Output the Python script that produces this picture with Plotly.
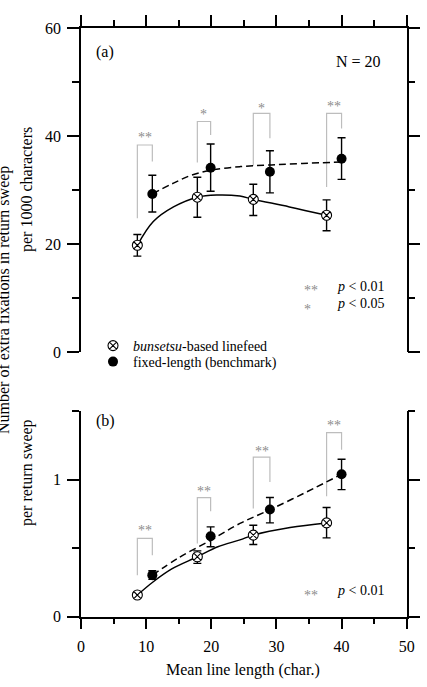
import plotly.graph_objects as go

# ---------------- data ----------------
x_bun = [8.65, 17.86, 26.45, 37.7]
x_fix = [10.95, 19.9, 29.0, 40.0]

# Panel (a): per 1000 characters
a_bun = [19.8, 28.7, 28.3, 25.35]
a_bun_hi = [21.8, 32.4, 31.1, 28.2]
a_bun_lo = [17.8, 25.0, 25.3, 22.5]
a_fix = [29.3, 34.15, 33.4, 35.8]
a_fix_hi = [32.75, 38.55, 37.3, 39.7]
a_fix_lo = [25.95, 29.8, 29.5, 32.0]

a_fit_bun_x = [8.65, 11.1, 14.2, 17.86, 20.8, 24.4, 26.45, 32.0, 37.7]
a_fit_bun_y = [19.8, 24.2, 26.9, 28.7, 29.1, 28.9, 28.3, 26.9, 25.35]
a_fit_fix_x = [10.95, 14.2, 17.0, 20.0, 24.4, 29.0, 34.0, 40.0]
a_fit_fix_y = [29.3, 31.3, 32.8, 33.7, 34.35, 34.65, 34.95, 35.2]

a_br_top = [38.35, 42.7, 44.2, 44.2]
a_br_left_bottom = [24.8, 35.1, 34.5, 30.6]
a_br_right_bottom = [35.3, 40.2, 39.6, 41.4]
a_sig = ["**", "*", "*", "**"]
a_sig_y = [40.3, 44.5, 45.75, 46.1]

# Panel (b): per return sweep
b_bun = [0.158, 0.437, 0.595, 0.684]
b_bun_hi = [0.172, 0.48, 0.667, 0.796]
b_bun_lo = [0.144, 0.389, 0.527, 0.575]
b_fix = [0.303, 0.587, 0.782, 1.039]
b_fix_hi = [0.335, 0.655, 0.869, 1.148]
b_fix_lo = [0.272, 0.51, 0.684, 0.927]

b_fit_bun_x = [8.65, 11.1, 14.0, 17.86, 21.0, 24.4, 26.45, 32.1, 37.7]
b_fit_bun_y = [0.158, 0.255, 0.35, 0.437, 0.51, 0.56, 0.595, 0.65, 0.684]
b_fit_fix_x = [10.95, 15.0, 20.0, 24.4, 29.0, 34.65, 40.0]
b_fit_fix_y = [0.303, 0.43, 0.56, 0.68, 0.78, 0.91, 1.039]

b_br_top = [0.571, 0.869, 1.164, 1.342]
b_br_left_bottom = [0.303, 0.534, 0.789, 0.878]
b_br_right_bottom = [0.449, 0.769, 0.983, 1.218]
b_sig = ["**", "**", "**", "**"]
b_sig_y = [0.648, 0.934, 1.23, 1.419]

name_bun = "<i>bunsetsu</i>-based linefeed"
name_fix = "fixed-length (benchmark)"

FONT = "Liberation Serif"
GRAY_LINE = "#bdbdbd"
GRAY_TXT = "#8c8c8c"

fig = go.Figure()


def bracket_xy(xl, xr, top, lb, rb):
    xs, ys = [], []
    for a, b, t, l, r in zip(xl, xr, top, lb, rb):
        xs += [a, a, b, b, None]
        ys += [l, t, t, r, None]
    return xs, ys


def add_panel(xa, ya, bun, bun_hi, bun_lo, fix, fix_hi, fix_lo,
              fbx, fby, ffx, ffy, top, lb, rb, legend):
    bx, by = bracket_xy(x_bun, x_fix, top, lb, rb)
    fig.add_trace(go.Scatter(x=bx, y=by, mode="lines", xaxis=xa, yaxis=ya,
                             line=dict(color=GRAY_LINE, width=1.2),
                             showlegend=False, hoverinfo="skip"))
    fig.add_trace(go.Scatter(x=fbx, y=fby, mode="lines", xaxis=xa, yaxis=ya,
                             line=dict(color="black", width=1.5, shape="spline"),
                             showlegend=False, hoverinfo="skip"))
    fig.add_trace(go.Scatter(x=ffx, y=ffy, mode="lines", xaxis=xa, yaxis=ya,
                             line=dict(color="black", width=1.5, shape="spline",
                                       dash="7px,4px"),
                             showlegend=False, hoverinfo="skip"))
    fig.add_trace(go.Scatter(
        x=x_bun, y=bun, mode="markers", xaxis=xa, yaxis=ya, name=name_bun,
        showlegend=legend, legend="legend",
        marker=dict(symbol="circle-x", size=10, color="white",
                    line=dict(color="black", width=1.1)),
        error_y=dict(type="data", symmetric=False,
                     array=[h - m for h, m in zip(bun_hi, bun)],
                     arrayminus=[m - l for m, l in zip(bun, bun_lo)],
                     color="black", thickness=1.4, width=4)))
    fig.add_trace(go.Scatter(
        x=x_fix, y=fix, mode="markers", xaxis=xa, yaxis=ya, name=name_fix,
        showlegend=legend, legend="legend2",
        marker=dict(symbol="circle", size=10, color="black"),
        error_y=dict(type="data", symmetric=False,
                     array=[h - m for h, m in zip(fix_hi, fix)],
                     arrayminus=[m - l for m, l in zip(fix, fix_lo)],
                     color="black", thickness=1.4, width=4)))


add_panel("x", "y", a_bun, a_bun_hi, a_bun_lo, a_fix, a_fix_hi, a_fix_lo,
          a_fit_bun_x, a_fit_bun_y, a_fit_fix_x, a_fit_fix_y,
          a_br_top, a_br_left_bottom, a_br_right_bottom, True)
add_panel("x2", "y2", b_bun, b_bun_hi, b_bun_lo, b_fix, b_fix_hi, b_fix_lo,
          b_fit_bun_x, b_fit_bun_y, b_fit_fix_x, b_fit_fix_y,
          b_br_top, b_br_left_bottom, b_br_right_bottom, False)

annotations = []
for xl, xr, s, y in zip(x_bun, x_fix, a_sig, a_sig_y):
    annotations.append(dict(x=(xl + xr) / 2, y=y, xref="x", yref="y", text=s,
                            showarrow=False, yshift=-3,
                            font=dict(size=14, color=GRAY_TXT)))
for xl, xr, s, y in zip(x_bun, x_fix, b_sig, b_sig_y):
    annotations.append(dict(x=(xl + xr) / 2, y=y, xref="x2", yref="y2", text=s,
                            showarrow=False, yshift=-3,
                            font=dict(size=14, color=GRAY_TXT)))

W, H = 427, 687


def px(x):
    return x / W


def py(y):
    return (H - y) / H


P = dict(xref="paper", yref="paper", showarrow=False)
txt = dict(font=dict(size=16, color="black"), **P)
annotations += [
    dict(x=px(94), y=py(52), xanchor="left", yanchor="middle", text="(a)", **txt),
    dict(x=px(383), y=py(61), xanchor="right", yanchor="middle", text="N = 20", **txt),
    dict(x=px(94), y=py(421), xanchor="left", yanchor="middle", text="(b)", **txt),
    dict(x=px(243), y=py(670), xanchor="center", yanchor="middle",
         text="Mean line length (char.)", **txt),
    dict(x=px(4), y=py(300), xanchor="center", yanchor="middle", textangle=-90,
         text="Number of extra fixations in return sweep", **txt),
    dict(x=px(27), y=py(190), xanchor="center", yanchor="middle", textangle=-90,
         text="per 1000 characters", **txt),
    dict(x=px(27), y=py(473), xanchor="center", yanchor="middle", textangle=-90,
         text="per return sweep", **txt),
]
small = dict(font=dict(size=14, color="black"), **P)
stars = dict(font=dict(size=14, color=GRAY_TXT), **P)
annotations += [
    dict(x=px(302), y=py(287), xanchor="left", yanchor="middle", yshift=-3, text="**", **stars),
    dict(x=px(335), y=py(286), xanchor="left", yanchor="middle", text="<i>p</i> < 0.01", **small),
    dict(x=px(302), y=py(306), xanchor="left", yanchor="middle", yshift=-3, text="*", **stars),
    dict(x=px(335), y=py(304), xanchor="left", yanchor="middle", text="<i>p</i> < 0.05", **small),
    dict(x=px(302), y=py(592), xanchor="left", yanchor="middle", yshift=-3, text="**", **stars),
    dict(x=px(335), y=py(590), xanchor="left", yanchor="middle", text="<i>p</i> < 0.01", **small),
]

xdom = [px(81), px(406.7)]
axis_common = dict(showline=True, linecolor="black", linewidth=1.5,
                   ticks="outside", tickcolor="black", tickwidth=1.5,
                   showgrid=False, zeroline=False, automargin=False,
                   tickfont=dict(size=16, color="black", family=FONT))


def minor(d, ln):
    return dict(dtick=d, ticklen=ln, ticks="outside", tickcolor="black",
                tickwidth=1.5, showgrid=False)


leg = dict(xanchor="left", yanchor="middle", bgcolor="rgba(0,0,0,0)",
           font=dict(size=14, color="black"), itemsizing="trace")

fig.update_layout(
    width=W, height=H, autosize=False,
    margin=dict(l=0, r=0, t=0, b=0, pad=0, autoexpand=False),
    paper_bgcolor="white", plot_bgcolor="white",
    font=dict(family=FONT, color="black"),
    showlegend=True,
    legend=dict(x=px(93), y=py(346), **leg),
    legend2=dict(x=px(93), y=py(362), **leg),
    annotations=annotations,
    # top panel
    xaxis=dict(domain=xdom, range=[0, 50], anchor="y", side="top",
               tickmode="linear", tick0=0, dtick=10, ticklen=11,
               showticklabels=False, minor=minor(5, 6), **axis_common),
    yaxis=dict(domain=[py(352.3), py(28)], range=[0, 60], anchor="x",
               tickmode="linear", tick0=0, dtick=20, ticklen=12, mirror="ticks",
               ticklabelstandoff=3, minor=minor(10, 7), **axis_common),
    # bottom panel
    xaxis2=dict(domain=xdom, range=[0, 50], anchor="y2", side="bottom",
                tickmode="linear", tick0=0, dtick=10, ticklen=11,
                ticklabelstandoff=3, minor=minor(5, 6), **axis_common),
    yaxis2=dict(domain=[py(616.7), py(411)], range=[0, 1.5], anchor="x2",
                tickmode="linear", tick0=0, dtick=1, ticklen=12, mirror="ticks",
                ticklabelstandoff=3, minor=minor(0.5, 7), **axis_common),
)

fig.write_html("out.html")
